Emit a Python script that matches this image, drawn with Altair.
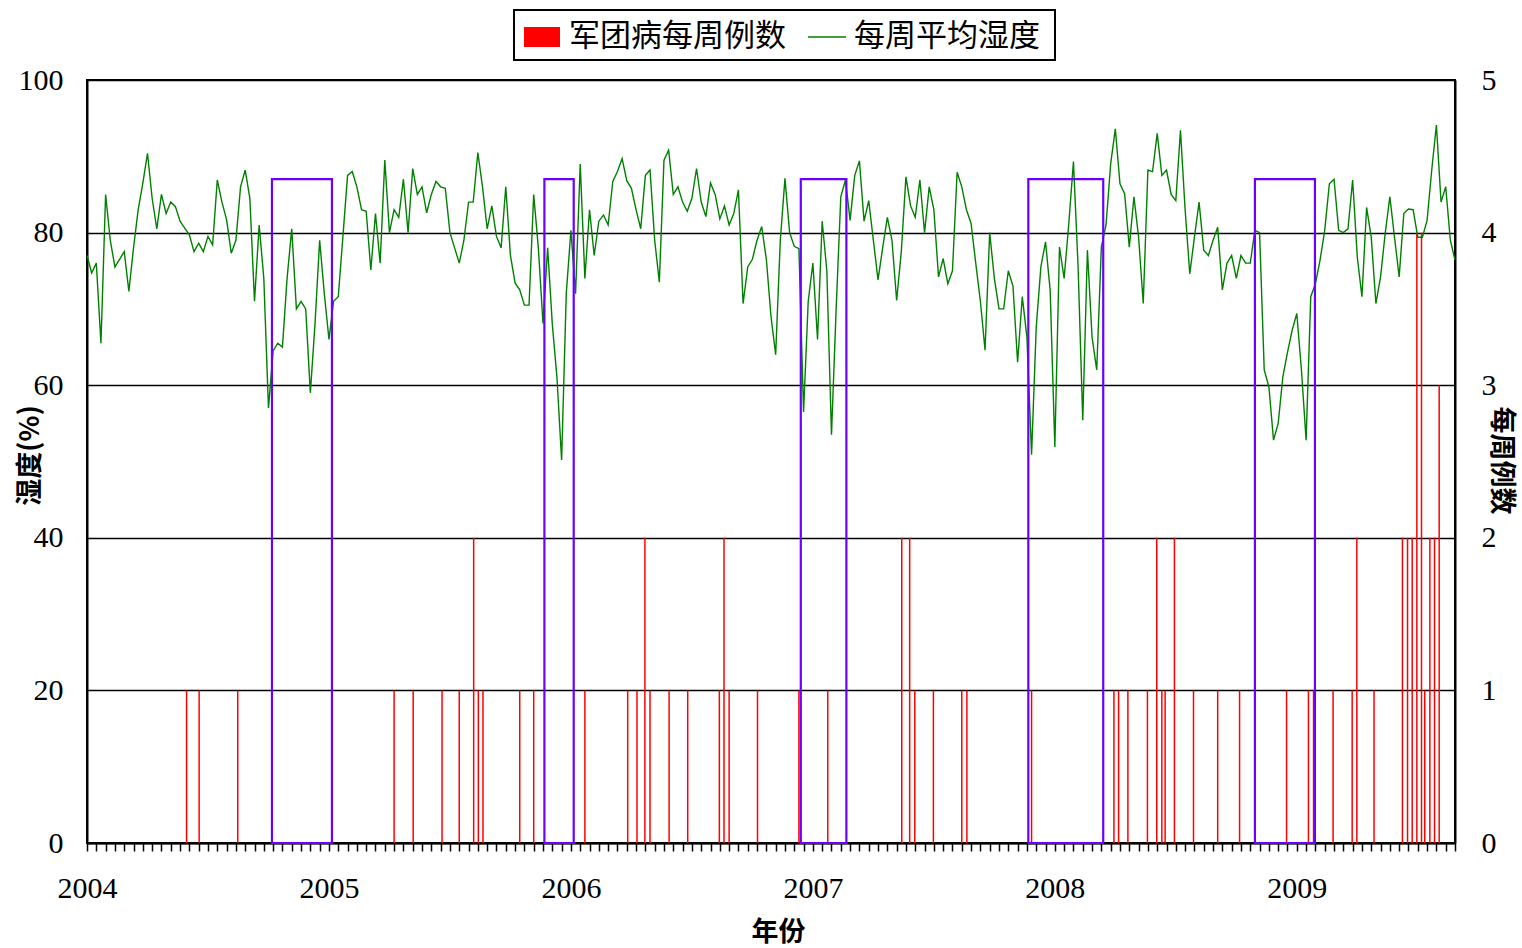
import altair as alt
import pandas as pd

# ---------------- data ----------------
year_labels = ["2004", "2005", "2006", "2007", "2008", "2009"]
weeks_per_year = 52

# weekly mean humidity (%), one value per week starting at week 0 (start of 2004)
humidity_2004 = [77, 74.7, 76, 65.5, 85, 79, 75.5, 76.5, 77.5, 72.3,
                 78, 83, 86.5, 90.4, 84.5, 80.5, 85, 82.5, 84, 83.4,
                 81.5, 80.6, 79.7, 77.5, 78.6, 77.5, 79.5, 78.4, 86.9, 84,
                 81.7, 77.3, 79, 86, 88.2, 84.5, 71, 81, 74, 57,
                 64.5, 65.5, 65, 74, 80.5, 70, 71, 70, 59, 68,
                 79, 72]
humidity_2005 = [66, 71, 71.6, 79.5, 87.5, 88, 86, 83, 82.8, 75.1,
                 82.5, 76, 89.5, 80, 83, 82, 87, 80, 88.4, 85,
                 86, 82.6, 85, 86.7, 86, 85.8, 80, 78, 76, 79,
                 84, 84, 90.5, 86, 80.5, 83.5, 79.5, 78, 86, 77,
                 73.4, 72.5, 70.5, 70.5, 85, 78, 68.1, 78, 68, 61,
                 50.2, 72]
humidity_2006 = [80.3, 72, 89, 74, 83, 77, 81.5, 82.3, 81, 86.7,
                 88, 89.7, 86.8, 85.8, 83, 80.5, 87.5, 88.2, 79, 73.5,
                 89.5, 90.8, 85, 86, 84, 82.8, 84.5, 88.4, 84, 82.1,
                 86.5, 85, 81.8, 83.5, 81, 82.5, 85.6, 70.7, 75.5, 76.5,
                 79, 80.8, 76.5, 69, 64, 79, 87.1, 80, 78.2, 77.9,
                 56.5, 71]
humidity_2007 = [76, 66, 81.5, 75, 53.5, 70, 84.7, 86.9, 81.6, 87.5,
                 89.4, 81.5, 84.2, 79, 73.8, 78, 82, 79, 71.1, 77.5,
                 87.3, 83.5, 82, 86.9, 80, 86, 83, 74.2, 76.6, 73.3,
                 75, 87.9, 86, 83, 81.2, 76, 71, 64.6, 80, 74,
                 70, 70, 75, 73, 63, 71.6, 66.3, 50.9, 67.6, 75.5,
                 78.8, 72.4]
humidity_2008 = [51.9, 78.1, 74, 81.2, 89.3, 75.5, 55.4, 77.7, 66.3, 62,
                 78.1, 81, 89, 93.6, 86.4, 85.1, 78.1, 84.7, 79.4, 70.7,
                 88.2, 88, 93, 87.5, 88.2, 85, 84.2, 93.4, 83, 74.6,
                 79.4, 84, 77.7, 77, 79, 80.7, 72.5, 76, 77, 74,
                 77, 76, 76, 80.3, 80, 62, 59.8, 52.8, 55, 61.1,
                 64.3, 67.2]
humidity_2009 = [69.4, 62, 52.8, 71.6, 73.3, 76.4, 80.3, 86.4, 87, 80.3,
                 80, 80.5, 86.9, 76.8, 71.6, 83.3, 79.4, 70.7, 74.2, 79.9,
                 84.7, 79.4, 74.2, 82.5, 83.1, 83, 79.4, 79.4, 81.6, 88.2,
                 94.1, 84, 86, 79, 76.4]

# weekly Legionnaires' disease cases (week position, number of cases)
case_weeks = [21.4, 24.1, 32.4, 66.0, 70.1, 76.3, 80.0, 83.1, 84.1, 85.1, 93.0, 96.0,
              107.0, 116.2, 118.2, 119.9, 121.0, 125.1, 129.1, 135.9, 136.9, 138.0,
              144.1, 153.0, 159.2, 175.1, 176.8, 177.9, 181.9, 188.0, 189.1, 203.0,
              220.7, 221.7, 223.7, 227.9, 229.9, 231.0, 231.7, 233.7, 237.8, 243.0,
              247.7, 257.8, 262.5, 263.6, 267.8, 271.9, 272.9, 276.6,
              282.7, 283.8, 284.8, 285.8, 286.8, 287.5, 288.6, 289.6, 290.6]
case_counts = [1, 1, 1, 1, 1, 1, 1, 2, 1, 1, 1, 1,
               1, 1, 1, 2, 1, 1, 1, 1, 2, 1,
               1, 1, 1, 2, 2, 1, 1, 1, 1, 1,
               1, 1, 1, 1, 2, 1, 1, 2, 1, 1,
               1, 1, 1, 1, 1, 1, 2, 1,
               2, 2, 2, 4, 4, 1, 2, 2, 3]

# highlighted low-humidity periods (week positions) and their top (humidity %)
period_start = [39.75, 98.3, 153.4, 202.3, 251.0]
period_end = [52.64, 104.6, 163.2, 218.4, 263.9]
period_top = 87

series_names = ["军团病每周例数", "每周平均湿度"]
x_title = "年份"
left_title = "湿度(%)"
right_title = "每周例数"

humidity = (humidity_2004 + humidity_2005 + humidity_2006 +
            humidity_2007 + humidity_2008 + humidity_2009)

hum_df = pd.DataFrame({"week": list(range(len(humidity))), "humidity": humidity})
case_df = pd.DataFrame({"week": case_weeks, "count": case_counts,
                        "base": [0] * len(case_counts)})
per_df = pd.DataFrame({"start": period_start, "end": period_end,
                       "bottom": [0] * len(period_start),
                       "top": [period_top] * len(period_start)})

# ---------------- styling ----------------
NUM_FONT = "Liberation Serif"
CJK_FONT = "Noto Sans CJK SC"
W, H = 1368, 763
GREEN = "#008000"
RED = "#ff0000"
PURPLE = "#6a00ff"

x_domain = [0, 294]
x_ticks = list(range(0, x_domain[1] + 1, 2))
labels_js = "[" + ",".join("'%s'" % y for y in year_labels) + "]"
x_scale = alt.Scale(domain=x_domain, nice=False, zero=False)
x_axis = alt.Axis(
    values=x_ticks,
    labelExpr=f"datum.value % {weeks_per_year} == 0 ? {labels_js}[datum.value / {weeks_per_year}] : ''",
    labelOverlap=False, labelFlush=False, labelBound=False,
    labelFont=NUM_FONT, labelFontSize=30, labelColor="black", labelPadding=22,
    tickSize=8, tickColor="black", tickWidth=1.5,
    domainColor="black", domainWidth=2, grid=False,
    title=x_title, titleFont=CJK_FONT, titleFontSize=27, titleFontWeight="bold",
    titleColor="black", titleX=691, titleY=89, titleBaseline="middle", titleAlign="center",
)

left_axis = alt.Axis(
    orient="left", values=[0, 20, 40, 60, 80, 100],
    ticks=False, tickSize=0, labelPadding=24,
    labelFont=NUM_FONT, labelFontSize=30, labelColor="black", labelFlush=False,
    domainColor="black", domainWidth=2,
    grid=True, gridColor="black", gridWidth=1.6, gridOpacity=1,
    title=left_title, titleFont=CJK_FONT, titleFontSize=27, titleFontWeight="bold",
    titleColor="black", titleX=-57, titleY=375, titleAngle=270,
    titleBaseline="middle", titleAlign="center",
)
right_axis = alt.Axis(
    orient="right", values=[0, 1, 2, 3, 4, 5],
    ticks=False, tickSize=0, labelPadding=26,
    labelFont=NUM_FONT, labelFontSize=30, labelColor="black", labelFlush=False,
    domainColor="black", domainWidth=2, grid=False,
    title=right_title, titleFont=CJK_FONT, titleFontSize=27, titleFontWeight="bold",
    titleColor="black", titleX=45, titleY=380, titleAngle=90,
    titleBaseline="middle", titleAlign="center",
)

cases = alt.Chart(case_df).mark_rule(color=RED, strokeWidth=1.5).encode(
    x=alt.X("week:Q", scale=x_scale, axis=x_axis),
    y=alt.Y("count:Q", scale=alt.Scale(domain=[0, 5], nice=False), axis=right_axis),
    y2="base:Q",
)

line = alt.Chart(hum_df).mark_line(color=GREEN, strokeWidth=1.4).encode(
    x=alt.X("week:Q", scale=x_scale, axis=x_axis),
    y=alt.Y("humidity:Q", scale=alt.Scale(domain=[0, 100], nice=False), axis=left_axis),
)

periods = alt.Chart(per_df).mark_rect(fillOpacity=0, stroke=PURPLE, strokeWidth=2.2).encode(
    x=alt.X("start:Q", scale=x_scale, axis=x_axis),
    x2="end:Q",
    y=alt.Y("bottom:Q", scale=alt.Scale(domain=[0, 100], nice=False), axis=None),
    y2="top:Q",
)

# ---------------- legend (drawn above the plot) ----------------
one = pd.DataFrame({"k": [0]})
leg_box = alt.Chart(one).mark_rect(fill="white", stroke="black", strokeWidth=2).encode(
    x=alt.value(427), x2=alt.value(968), y=alt.value(-70), y2=alt.value(-20))
leg_sq = alt.Chart(one).mark_rect(fill=RED).encode(
    x=alt.value(437), x2=alt.value(473), y=alt.value(-53), y2=alt.value(-33))
leg_t1 = alt.Chart(one).mark_text(align="left", baseline="middle", font=CJK_FONT,
                                  fontSize=31, color="black").encode(
    x=alt.value(482), y=alt.value(-43), text=alt.value(series_names[0]))
leg_ln = alt.Chart(one).mark_rule(color=GREEN, strokeWidth=1.5).encode(
    x=alt.value(721), x2=alt.value(759), y=alt.value(-43))
leg_t2 = alt.Chart(one).mark_text(align="left", baseline="middle", font=CJK_FONT,
                                  fontSize=31, color="black").encode(
    x=alt.value(767), y=alt.value(-43), text=alt.value(series_names[1]))

chart = alt.layer(
    cases, line, periods, leg_box, leg_sq, leg_t1, leg_ln, leg_t2
).resolve_scale(
    y="independent"
).properties(
    width=W, height=H,
    autosize=alt.AutoSizeParams(type="none"),
    padding={"left": 87, "top": 80, "right": 67, "bottom": 105},
    background="white",
).configure_view(
    stroke="black", strokeWidth=2
)

chart.save("out.html", embed_options={"renderer": "svg", "actions": False})
